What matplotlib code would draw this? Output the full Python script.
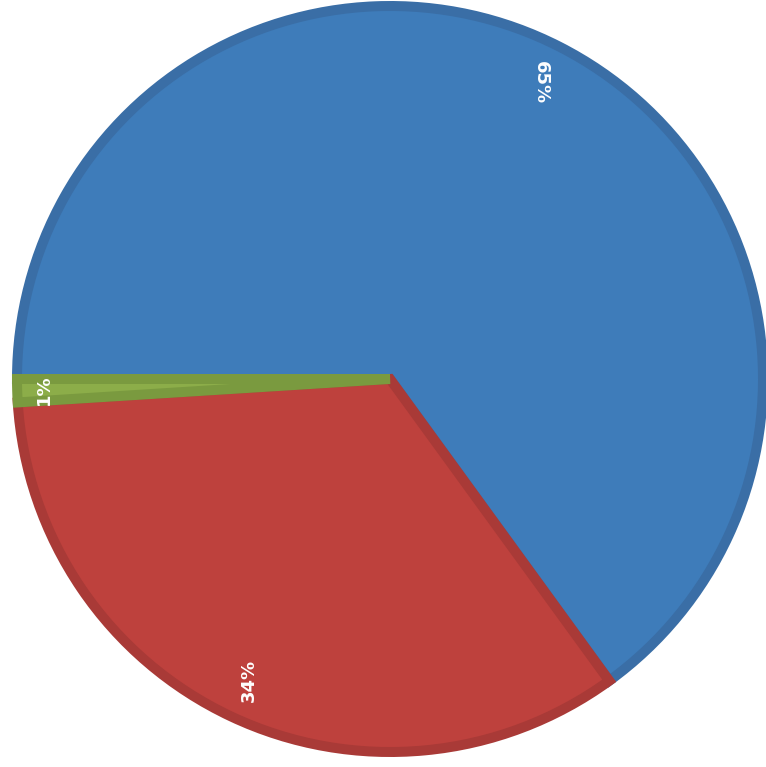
import matplotlib
matplotlib.use("Agg")
import matplotlib.pyplot as plt

# ------------------- Data -------------------
labels = ["A", "B", "C"]
shares = [65, 34, 1]
fill_colors = ["#3E7CBA", "#BE413D", "#8CAD49"]
edge_colors = ["#3A6EA6", "#A93A37", "#7A9A3F"]
label_rotations = [-90, 90, 90]

# ------------------- Plot -------------------
fig = plt.figure(figsize=(7.66, 7.67), dpi=100)
ax = fig.add_axes([0, 0, 1, 1])

px = 378.0          # pixels per data unit
edge_px = 10.0      # width of darker border band
radius = 1 - (edge_px / 2) / px

wedges, texts, autotexts = ax.pie(
    shares,
    colors=fill_colors,
    startangle=180,
    counterclock=False,
    radius=radius,
    autopct="%d%%",
    pctdistance=0.88 / radius,
    textprops={"color": "white", "fontsize": 13, "fontweight": "bold"},
    wedgeprops={"linewidth": edge_px * 72 / 100, "joinstyle": "miter"},
)

for w, ec in zip(wedges, edge_colors):
    w.set_edgecolor(ec)

for t, rot in zip(autotexts, label_rotations):
    t.set_rotation(rot)

# small slice label sits a bit further out
x, y = autotexts[2].get_position()
autotexts[2].set_position((x * 0.915 / 0.88, y * 0.915 / 0.88))

ax.set_aspect("auto")
ax.set_xlim(-390 / px, 376 / px)
ax.set_ylim(-388 / px, 379 / px)
ax.axis("off")

fig.savefig("out.png", dpi=100)
